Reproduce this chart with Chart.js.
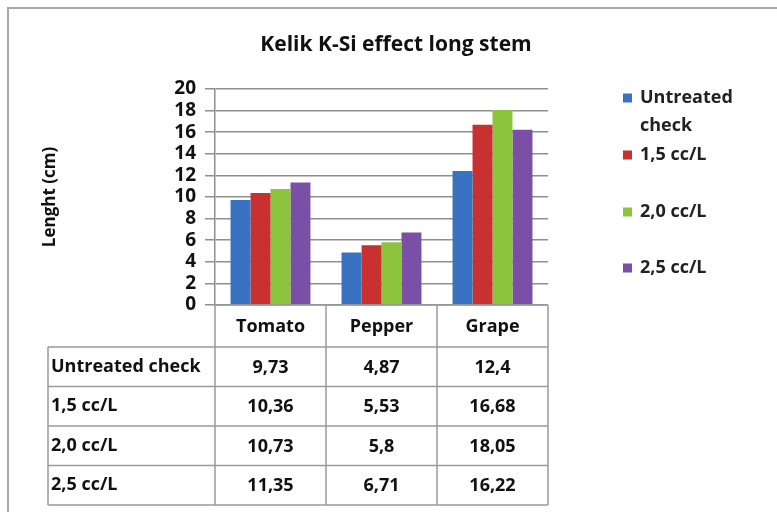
<!DOCTYPE html>
<html>
<head>
<meta charset="utf-8">
<script src="https://cdn.jsdelivr.net/npm/chart.js@4.4.1/dist/chart.umd.min.js"></script>
<style>
  html, body { margin: 0; padding: 0; background: #fff; }
  #wrap { width: 777px; height: 512px; }
</style>
</head>
<body>
<div id="wrap"><canvas id="c" width="777" height="512"></canvas></div>
<script>
// ---- data ----
const categories = ['Tomato', 'Pepper', 'Grape'];
const seriesLabels = ['Untreated check', '1,5 cc/L', '2,0 cc/L', '2,5 cc/L'];
const untreated = [9.73, 4.87, 12.4];
const cc15 = [10.36, 5.53, 16.68];
const cc20 = [10.73, 5.8, 18.05];
const cc25 = [11.35, 6.71, 16.22];
const yTicks = [0, 2, 4, 6, 8, 10, 12, 14, 16, 18, 20];
const titleText = 'Kelik K-Si effect long stem';
const yTitle = 'Lenght (cm)';

const colors = ['#3a72c2', '#c8312f', '#8cc43e', '#7a4fa6'];
const FONT = '"Open Sans", Lato, sans-serif';
const seriesValues = [untreated, cc15, cc20, cc25];

const fmt = v => String(v).replace('.', ',');

const frame = {
  id: 'frame',
  beforeDraw(chart) {
    const ctx = chart.ctx;
    ctx.save();
    ctx.fillStyle = '#fff';
    ctx.fillRect(0, 0, chart.width, chart.height);
    ctx.strokeStyle = '#a8a8a8';
    ctx.lineWidth = 2;
    ctx.strokeRect(8, 8, chart.width + 20, chart.height + 20);
    // title
    ctx.fillStyle = '#111';
    ctx.font = 'bold 21px ' + FONT;
    ctx.textAlign = 'center';
    ctx.textBaseline = 'middle';
    ctx.fillText(titleText, 396, 45);
    ctx.restore();
  }
};

const tableAndLegend = {
  id: 'tableAndLegend',
  afterDraw(chart) {
    const ctx = chart.ctx;
    const xs = chart.scales.x;
    const area = chart.chartArea;
    const catW = (area.right - area.left) / categories.length;
    ctx.save();
    // ---- data table ----
    const top = area.bottom;
    const headerH = 42;
    const rowH = 39.5;
    const labelLeft = 48;
    ctx.strokeStyle = '#9a9a9a';
    ctx.lineWidth = 1.5;
    ctx.beginPath();
    ctx.moveTo(area.left, top);
    ctx.lineTo(area.right, top);
    for (let i = 0; i <= categories.length; i++) {
      const x = area.left + i * catW;
      ctx.moveTo(x, top);
      ctx.lineTo(x, top + headerH + rowH * seriesLabels.length);
    }
    for (let r = 0; r <= seriesLabels.length; r++) {
      const y = top + headerH + r * rowH;
      ctx.moveTo(labelLeft, y);
      ctx.lineTo(area.right, y);
    }
    ctx.moveTo(labelLeft, top + headerH);
    ctx.lineTo(labelLeft, top + headerH + rowH * seriesLabels.length);
    ctx.stroke();

    ctx.fillStyle = '#111';
    ctx.font = 'bold 18px ' + FONT;
    ctx.textBaseline = 'middle';
    ctx.textAlign = 'center';
    categories.forEach((c, i) => {
      ctx.fillText(c, xs.getPixelForValue(i), top + headerH / 2 + 1);
    });
    seriesLabels.forEach((lab, r) => {
      const cy = top + headerH + r * rowH + rowH / 2;
      ctx.textAlign = 'left';
      ctx.fillText(lab, labelLeft + 3, cy);
      ctx.textAlign = 'center';
      seriesValues[r].forEach((v, i) => {
        ctx.fillText(fmt(v), xs.getPixelForValue(i), cy + 1);
      });
    });

    // ---- legend ----
    const legendRows = [[98, 126], [155], [212], [268]];
    const lx = 623;
    ctx.textAlign = 'left';
    ctx.font = 'bold 18px ' + FONT;
    seriesLabels.forEach((lab, k) => {
      const ys = legendRows[k];
      ctx.fillStyle = colors[k];
      ctx.fillRect(lx, ys[0] - 4.5, 9, 9);
      ctx.fillStyle = '#222';
      const words = ys.length > 1 ? lab.split(' ') : [lab];
      words.forEach((w, j) => ctx.fillText(w, lx + 17, ys[j]));
    });
    ctx.restore();
  }
};

new Chart(document.getElementById('c'), {
  type: 'bar',
  data: {
    labels: categories,
    datasets: seriesLabels.map((lab, k) => ({
      label: lab,
      data: seriesValues[k],
      backgroundColor: colors[k],
      borderWidth: 0,
      barPercentage: 1,
      categoryPercentage: 0.72
    }))
  },
  options: {
    responsive: false,
    animation: false,
    layout: { padding: { left: 40, right: 229, top: 89, bottom: 207 } },
    plugins: {
      legend: { display: false },
      tooltip: { enabled: false },
      title: { display: false }
    },
    scales: {
      x: { display: false },
      y: {
        min: 0,
        max: 20,
        afterBuildTicks(scale) { scale.ticks = yTicks.map(v => ({ value: v })); },
        afterFit(scale) { scale.width = 175; },
        ticks: {
          autoSkip: false,
          color: '#111',
          font: { family: FONT, size: 19, weight: 'bold' },
          padding: 9
        },
        grid: {
          color: '#8f8f8f',
          lineWidth: 1.5,
          tickLength: 10,
          drawTicks: true
        },
        border: { display: true, color: '#8f8f8f', width: 1.5 },
        title: {
          display: true,
          text: yTitle,
          color: '#111',
          font: { family: FONT, size: 17, weight: 'bold' },
          padding: 0
        }
      }
    }
  },
  plugins: [frame, tableAndLegend]
});
</script>
</body>
</html>
